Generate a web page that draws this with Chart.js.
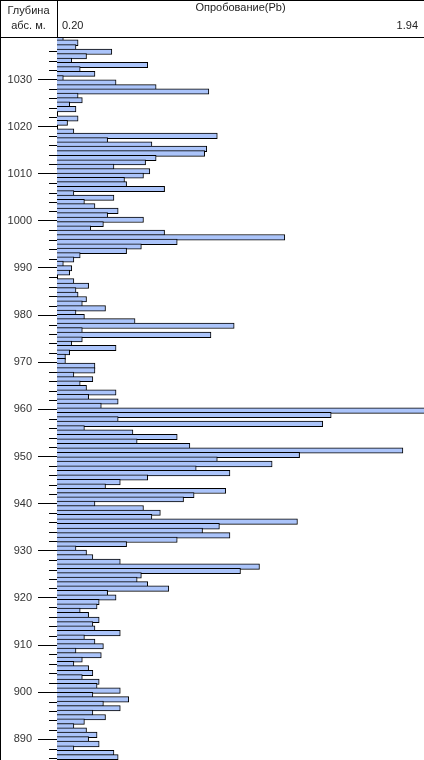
<!DOCTYPE html>
<html>
<head>
<meta charset="utf-8">
<script src="https://cdn.jsdelivr.net/npm/chart.js@4.4.1/dist/chart.umd.min.js"></script>
<style>
  html, body { margin: 0; padding: 0; background: #fff; }
  canvas { display: block; }
</style>
</head>
<body>
<canvas id="pb_log" width="424" height="760"></canvas>
<script>
// depth of each sample (abs. m, middle of interval), top to bottom
const depths = [
  1038.8, 1037.8, 1036.8, 1035.9, 1034.9, 1034.0, 1033.1, 1032.1, 1031.2, 1030.3,
  1029.3, 1028.3, 1027.5, 1026.5, 1025.6, 1024.7, 1023.7, 1022.7, 1021.7, 1020.8,
  1019.9, 1019.0, 1018.0, 1017.1, 1016.2, 1015.3, 1014.3, 1013.3, 1012.4, 1011.5,
  1010.5, 1009.6, 1008.7, 1007.7, 1006.8, 1005.8, 1004.9, 1004.0, 1003.1, 1002.1,
  1001.2, 1000.2, 999.3, 998.4, 997.5, 996.5, 995.5, 994.6, 993.6, 992.7,
  991.8, 990.9, 989.9, 989.0, 988.1, 987.2, 986.2, 985.3, 984.3, 983.4,
  982.4, 981.4, 980.5, 979.6, 978.7, 977.7, 976.8, 975.8, 974.8, 974.0,
  973.0, 972.1, 971.2, 970.2, 969.2, 968.3, 967.3, 966.4, 965.5, 964.5,
  963.6, 962.6, 961.7, 960.7, 959.7, 958.8, 957.9, 956.9, 956.0, 955.1,
  954.1, 953.2, 952.2, 951.3, 950.3, 949.4, 948.4, 947.4, 946.5, 945.5,
  944.6, 943.6, 942.7, 941.8, 940.9, 940.0, 939.0, 938.1, 937.1, 936.2,
  935.2, 934.2, 933.3, 932.3, 931.4, 930.5, 929.6, 928.6, 927.6, 926.6,
  925.7, 924.8, 923.8, 922.9, 922.0, 921.0, 920.1, 919.1, 918.2, 917.3,
  916.3, 915.3, 914.4, 913.5, 912.5, 911.6, 910.7, 909.7, 908.8, 907.8,
  906.9, 906.0, 905.0, 904.1, 903.1, 902.2, 901.3, 900.3, 899.4, 898.5,
  897.5, 896.6, 895.6, 894.7, 893.7, 892.8, 891.9, 890.9, 890.0, 889.0,
  888.0, 887.1, 886.2
];

// Pb assay, null = no sample in the interval
const pbValues = [
  0.23, 0.30, 0.29, 0.46, 0.34, 0.27, 0.63, 0.31, 0.38, 0.23,
  0.48, 0.67, 0.92, 0.30, 0.32, 0.26, 0.29, null, 0.30, 0.25,
  null, 0.28, 0.96, 0.44, 0.65, 0.91, 0.90, 0.67, 0.62, 0.47,
  0.64, 0.61, 0.52, 0.53, 0.71, 0.28, 0.47, 0.33, 0.38, 0.49,
  0.44, 0.61, 0.42, 0.36, 0.71, 1.28, 0.77, 0.60, 0.53, 0.31,
  0.28, 0.23, 0.27, 0.26, null, 0.28, 0.35, 0.29, 0.30, 0.34,
  0.32, 0.43, 0.29, 0.33, 0.57, 1.04, 0.32, 0.93, 0.32, 0.27,
  0.48, 0.26, 0.24, 0.24, 0.38, 0.38, 0.28, 0.37, 0.31, 0.34,
  0.48, 0.35, 0.49, 0.41, 2.05, 1.50, 0.49, 1.46, 0.33, 0.56,
  0.77, 0.58, 0.83, 1.84, 1.35, 0.96, 1.22, 0.86, 1.02, 0.63,
  0.50, 0.43, 1.00, 0.85, 0.80, 0.38, 0.61, 0.69, 0.65, 1.34,
  0.97, 0.89, 1.02, 0.77, 0.53, 0.29, 0.34, 0.37, 0.50, 1.16,
  1.07, 0.60, 0.58, 0.63, 0.73, 0.44, 0.48, 0.40, 0.39, 0.31,
  0.35, 0.40, 0.37, 0.38, 0.50, 0.33, 0.38, 0.42, 0.29, 0.41,
  0.32, 0.28, 0.35, 0.37, 0.32, 0.40, 0.39, 0.50, 0.37, 0.54,
  0.42, 0.50, 0.37, 0.43, 0.33, 0.28, 0.34, 0.39, 0.35, 0.40,
  0.28, 0.47, 0.49
];

const depthLabels = [1030, 1020, 1010, 1000, 990, 980, 970, 960, 950, 940, 930, 920, 910, 900, 890];
const depthMin = 885.6;
const depthMax = 1038.8;
const pbMin = 0.20;
const pbMax = 1.94;

Chart.defaults.font.family = "'Liberation Sans', Arial, sans-serif";
Chart.defaults.font.size = 11;
Chart.defaults.color = "#222";

// header box, column titles and the short 2 m ticks
const logFrame = {
  id: "logFrame",
  afterDraw: function (chart) {
    let ctx = chart.ctx;
    let area = chart.chartArea;
    let x = chart.scales.x;
    let y = chart.scales.y;
    let w = chart.width;
    let h = chart.height;
    ctx.save();
    ctx.strokeStyle = "#000";
    ctx.lineWidth = 1;
    ctx.beginPath();
    ctx.moveTo(0, 0.5); ctx.lineTo(w, 0.5);
    ctx.moveTo(0, area.top - 0.5); ctx.lineTo(w, area.top - 0.5);
    ctx.moveTo(0.5, 0); ctx.lineTo(0.5, h);
    ctx.moveTo(area.left + 0.5, 0); ctx.lineTo(area.left + 0.5, area.top);
    for (let d = 886; d <= 1036; d += 2) {
      if (d % 10 === 0) continue;
      let py = Math.round(y.getPixelForValue(d)) + 0.5;
      ctx.moveTo(area.left - 8, py); ctx.lineTo(area.left, py);
    }
    ctx.stroke();

    ctx.fillStyle = "#222";
    ctx.font = "11px 'Liberation Sans', Arial, sans-serif";
    ctx.textBaseline = "alphabetic";
    ctx.textAlign = "center";
    ctx.fillText("Глубина", area.left / 2, 13.5);
    ctx.fillText("абс. м.", area.left / 2, 28.5);
    ctx.fillText("Опробование(Pb)", (area.left + area.right) / 2, 10.5);
    ctx.textAlign = "left";
    ctx.fillText(pbMin.toFixed(2), x.getPixelForValue(pbMin) + 5, 28.5);
    ctx.textAlign = "right";
    ctx.fillText(pbMax.toFixed(2), x.getPixelForValue(pbMax) - 6, 28.5);
    ctx.restore();
  }
};

let samples = depths.map(function (d, i) {
  return {x: pbValues[i], y: d};
});

new Chart("pb_log", {
  type: "bar",
  data: {
    datasets: [{
      label: "Pb",
      data: samples,
      base: pbMin,
      backgroundColor: "#abc4fa",
      borderColor: "#000",
      borderWidth: 1,
      borderSkipped: "start",
      barThickness: "flex",
      categoryPercentage: 1.22,
      barPercentage: 1
    }]
  },
  options: {
    indexAxis: "y",
    responsive: false,
    animation: false,
    devicePixelRatio: 1,
    layout: {padding: {top: 38, left: 0, right: 0, bottom: 0}},
    plugins: {
      legend: {display: false},
      tooltip: {enabled: false}
    },
    scales: {
      x: {
        type: "linear",
        min: pbMin,
        max: pbMax,
        offset: false,
        display: false
      },
      y: {
        type: "linear",
        position: "left",
        min: depthMin,
        max: depthMax,
        offset: false,
        afterBuildTicks: function (scale) {
          scale.ticks = depthLabels.map(function (v) { return {value: v}; });
        },
        afterFit: function (scale) {
          scale.width = 57;
          scale.paddingTop = 0;
          scale.paddingBottom = 0;
        },
        ticks: {
          autoSkip: false,
          padding: 6,
          color: "#333",
          font: {size: 11},
          callback: function (v) { return String(v); }
        },
        grid: {
          offset: false,
          drawOnChartArea: false,
          tickLength: 19,
          tickColor: "#000",
          tickWidth: 1
        },
        border: {display: true, color: "#000", width: 1}
      }
    }
  },
  plugins: [logFrame]
});
</script>
</body>
</html>
